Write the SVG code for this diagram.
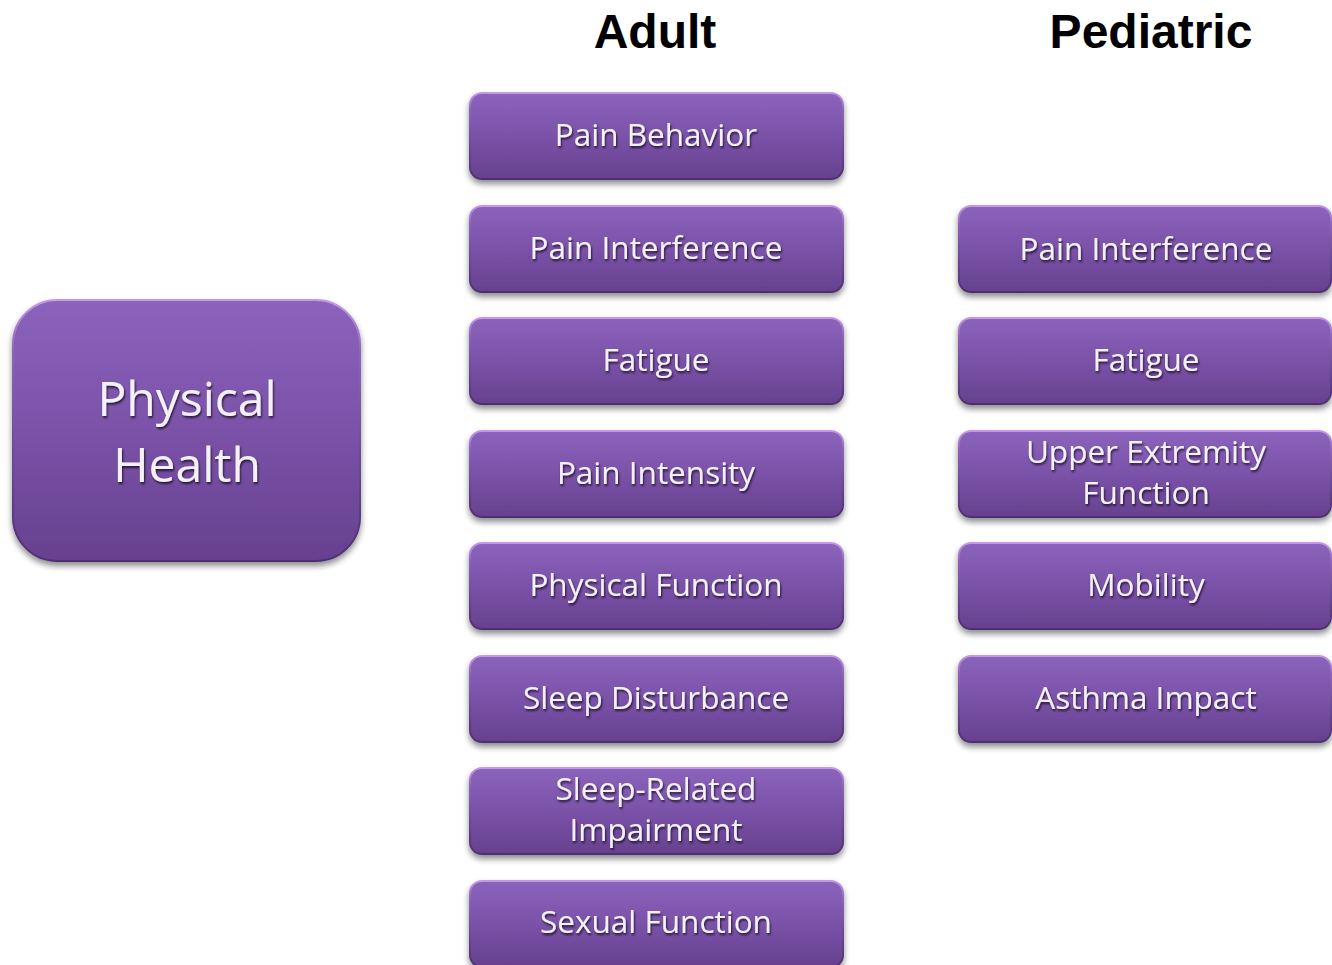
<svg xmlns="http://www.w3.org/2000/svg" width="1332" height="965" viewBox="0 0 1332 965">
<defs>
<linearGradient id="g" x1="0" y1="0" x2="0" y2="1">
<stop offset="0" stop-color="#8c63bc"/>
<stop offset="0.5" stop-color="#7a52a8"/>
<stop offset="1" stop-color="#66418f"/>
</linearGradient>
<linearGradient id="st" x1="0" y1="0" x2="0" y2="1">
<stop offset="0" stop-color="#c49ae8"/>
<stop offset="0.2" stop-color="#8d65bb"/>
<stop offset="1" stop-color="#4e2f72"/>
</linearGradient>
<filter id="sh" x="-10%" y="-20%" width="120%" height="150%">
<feGaussianBlur in="SourceAlpha" stdDeviation="3"/>
<feOffset dx="0" dy="4" result="b"/>
<feComponentTransfer><feFuncA type="linear" slope="0.45"/></feComponentTransfer>
<feMerge><feMergeNode/><feMergeNode in="SourceGraphic"/></feMerge>
</filter>
<filter id="ts" x="-10%" y="-30%" width="120%" height="160%">
<feGaussianBlur in="SourceAlpha" stdDeviation="1"/>
<feOffset dx="1" dy="1.5"/>
<feComponentTransfer><feFuncA type="linear" slope="0.7"/></feComponentTransfer>
<feMerge><feMergeNode/><feMergeNode in="SourceGraphic"/></feMerge>
</filter>
</defs>
<style>
.b{fill:url(#g);stroke:url(#st);stroke-width:2;filter:url(#sh)}
.t{font-family:"Open Sans","Liberation Sans",sans-serif;font-size:31.5px;fill:#f4f0f8;text-anchor:middle;filter:url(#ts)}
.h{font-family:"Liberation Sans",Arial,sans-serif;font-weight:bold;font-size:48px;fill:#000;text-anchor:middle}
</style>
<rect width="1332" height="965" fill="#fff"/>
<text class="h" x="655" y="48">Adult</text>
<text class="h" x="1151" y="48">Pediatric</text>
<g id="physical-health">
<rect class="b" x="13" y="300" width="347" height="261" rx="44"/>
<text class="t" style="font-size:48px" x="187" y="416">Physical</text>
<text class="t" style="font-size:48px" x="187" y="482">Health</text>
</g>
<g id="adult-pain-behavior"><rect class="b" x="470" y="93" width="373" height="86" rx="12"/><text class="t" x="656" y="146">Pain Behavior</text></g>
<g id="adult-pain-interference"><rect class="b" x="470" y="206" width="373" height="86" rx="12"/><text class="t" x="656" y="259">Pain Interference</text></g>
<g id="adult-fatigue"><rect class="b" x="470" y="318" width="373" height="86" rx="12"/><text class="t" x="656" y="371">Fatigue</text></g>
<g id="adult-pain-intensity"><rect class="b" x="470" y="431" width="373" height="86" rx="12"/><text class="t" x="656" y="484">Pain Intensity</text></g>
<g id="adult-physical-function"><rect class="b" x="470" y="543" width="373" height="86" rx="12"/><text class="t" x="656" y="596">Physical Function</text></g>
<g id="adult-sleep-disturbance"><rect class="b" x="470" y="656" width="373" height="86" rx="12"/><text class="t" x="656" y="709">Sleep Disturbance</text></g>
<g id="adult-sleep-related"><rect class="b" x="470" y="768" width="373" height="86" rx="12"/><text class="t" x="656" y="800">Sleep-Related</text><text class="t" x="656" y="841">Impairment</text></g>
<g id="adult-sexual-function"><rect class="b" x="470" y="881" width="373" height="86" rx="12"/><text class="t" x="656" y="933">Sexual Function</text></g>
<g id="ped-pain-interference"><rect class="b" x="959" y="206" width="372" height="86" rx="12"/><text class="t" x="1146" y="260">Pain Interference</text></g>
<g id="ped-fatigue"><rect class="b" x="959" y="318" width="372" height="86" rx="12"/><text class="t" x="1146" y="371">Fatigue</text></g>
<g id="ped-upper-extremity"><rect class="b" x="959" y="431" width="372" height="86" rx="12"/><text class="t" x="1146" y="463">Upper Extremity</text><text class="t" x="1146" y="504">Function</text></g>
<g id="ped-mobility"><rect class="b" x="959" y="543" width="372" height="86" rx="12"/><text class="t" x="1146" y="596">Mobility</text></g>
<g id="ped-asthma-impact"><rect class="b" x="959" y="656" width="372" height="86" rx="12"/><text class="t" x="1146" y="709">Asthma Impact</text></g>
<g id="connectors"></g>
</svg>
